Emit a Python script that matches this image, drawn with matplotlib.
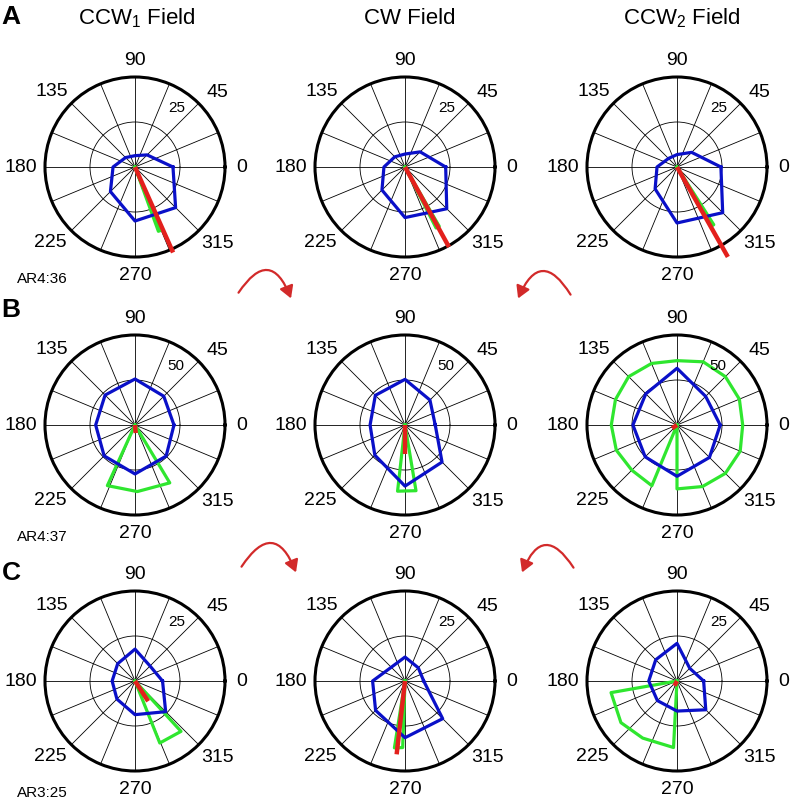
import numpy as np
import matplotlib
matplotlib.use("Agg")
import matplotlib.pyplot as plt
from matplotlib.patches import FancyArrowPatch

plt.rcParams["font.family"] = ["Liberation Sans", "DejaVu Sans"]
plt.rcParams["mathtext.fontset"] = "custom"
plt.rcParams["mathtext.rm"] = "Liberation Sans"
plt.rcParams["mathtext.it"] = "Liberation Sans:italic"

# ---- data ----
FIELDS = ["CCW$_1$ Field", "CW Field", "CCW$_2$ Field"]
ROW_LETTERS = ["A", "B", "C"]
CELL_IDS = ["AR4:36", "AR4:37", "AR3:25"]
RMAX = [50, 100, 50]
RING = [25, 50, 25]
ANGLE_TICKS = [0, 45, 90, 135, 180, 225, 270, 315]

BLUE_THETA = [0, 45, 90, 135, 180, 225, 270, 315]
blue_A = [[21.1, 9.5, 6.3, 7.4, 12.2, 19.3, 30.0, 31.9],
          [22.6, 11.9, 7.2, 8.0, 11.7, 18.1, 28.1, 32.8],
          [24.4, 11.5, 6.9, 6.7, 11.1, 17.2, 31.1, 35.9]]
blue_B = [[43.3, 45.2, 51.1, 47.0, 43.7, 48.5, 54.4, 48.9],
          [33.6, 39.2, 50.7, 46.6, 38.8, 47.4, 67.9, 58.2],
          [48.0, 45.0, 63.0, 49.0, 49.0, 50.0, 57.0, 51.0]]
blue_C = [[15.3, 11.8, 17.7, 13.6, 12.7, 14.2, 18.7, 24.1],
          [10.4, 10.4, 13.3, 10.8, 18.0, 23.1, 31.5, 29.6],
          [14.8, 10.0, 20.9, 16.7, 15.7, 15.4, 16.7, 22.6]]

green_theta_A = [[290, 290, 292, 292], [297, 297, 300, 300], [300, 300, 302.5, 302.5]]
green_r_A = [[0, 38, 38, 0], [0, 38, 38, 0], [0, 38, 38, 0]]
green_theta_B = [[245.5, 245.5, 272, 301, 301],
                 [263.6, 263.6, 279.5, 279.5],
                 [270, 270, 292.5, 315, 337.5, 360, 382.5, 405, 427.5, 450,
                  472.5, 495, 517.5, 540, 562.5, 585, 607.5, 607.5]]
green_r_B = [[0, 74, 74, 75, 0],
             [0, 74, 74, 0],
             [0, 71, 74, 76, 76, 73, 75, 76, 76, 71.5, 74, 76, 74, 73, 73, 71, 73, 0]]
green_theta_C = [[312.4, 312.4, 291.8, 291.8], [261, 261, 268, 268],
                 [190, 190, 216.6, 239, 267, 267]]
green_r_C = [[0, 37.9, 37.1, 0], [0, 37.6, 37.0, 0], [0, 37.2, 38.8, 37.0, 37.0, 0]]

red_theta = [[294, 298.8, 299.5], [275, 270, 214], [303, 263.5, 242]]
red_len = [[52, 50.7, 57.4], [9, 32, 6.5], [13.4, 41, 3]]

BLUE = [blue_A, blue_B, blue_C]
GREEN_T = [green_theta_A, green_theta_B, green_theta_C]
GREEN_R = [green_r_A, green_r_B, green_r_C]

# ---- layout (pixels of the 792x802 figure) ----
W, H = 792, 802
COL_X = [135, 405, 677]
ROW_Y = [167, 425, 681]
RAD = 90
LABEL_POS = {0: (0, 1.19), 45: (42, 1.24), 90: (90, 1.185), 135: (138, 1.25),
             180: (180, 1.27), 225: (222, 1.26), 270: (270, 1.21), 315: (317, 1.25)}

C_BLUE = "#0a10c8"
C_GREEN = "#2fe62f"
C_RED = "#e3201c"
C_ARROW = "#d22a2a"

fig = plt.figure(figsize=(W / 100, H / 100), dpi=100)


def polar_panel(i, j):
    cx, cy = COL_X[j], ROW_Y[i]
    ax = fig.add_axes([(cx - RAD) / W, 1 - (cy + RAD) / H, 2 * RAD / W, 2 * RAD / H],
                      projection="polar")
    rmax = RMAX[i]
    ax.set_ylim(0, rmax)
    ax.set_thetagrids(np.arange(0, 360, 22.5), labels=[])
    ax.set_rgrids([RING[i]], labels=[])
    ax.grid(True, color="black", linewidth=0.6)
    ax.spines["polar"].set_linewidth(2.2)
    ax.set_facecolor("white")

    th = np.deg2rad(BLUE_THETA + [BLUE_THETA[0]])
    rb = BLUE[i][j] + [BLUE[i][j][0]]
    ax.plot(th, rb, color=C_BLUE, lw=2.3, zorder=4)
    ax.plot(np.deg2rad(GREEN_T[i][j]), GREEN_R[i][j], color=C_GREEN, lw=2.3, zorder=3)
    t = np.deg2rad(red_theta[i][j])
    ax.plot([t, t], [0, red_len[i][j]], color=C_RED, lw=3.2, zorder=5,
            clip_on=False, solid_capstyle="butt")

    for a in ANGLE_TICKS:
        ang, rr = LABEL_POS[a]
        ax.text(np.deg2rad(ang), rr * rmax, str(a), ha="center", va="center",
                fontsize=14, clip_on=False)
    ax.text(np.deg2rad(55), 0.8 * rmax, str(RING[i]), ha="center", va="center",
            fontsize=11, zorder=6)
    return ax


for i in range(3):
    for j in range(3):
        polar_panel(i, j)

# titles, letters, cell ids
TITLE_X = [137, 410, 682]
for j in range(3):
    fig.text(TITLE_X[j] / W, 1 - 18 / H, FIELDS[j], ha="center", va="center", fontsize=16)

LETTER_Y = [17, 310, 573]
for i in range(3):
    fig.text(11 / W, 1 - LETTER_Y[i] / H, ROW_LETTERS[i], ha="center", va="center",
             fontsize=19, fontweight="bold")

CELL_Y = [279, 537, 793]
for i in range(3):
    fig.text(42 / W, 1 - CELL_Y[i] / H, CELL_IDS[i], ha="center", va="center", fontsize=11)

# curved red arrows between rows
ARROWS = [((237, 295), (292, 301), -1.0), ((572, 297), (517, 301), 1.0),
          ((240, 569), (297, 575), -1.0), ((575, 570), (521, 575), 1.0)]
for (x0, y0), (x1, y1), rad in ARROWS:
    p = FancyArrowPatch((x0 / W, 1 - y0 / H), (x1 / W, 1 - y1 / H),
                        transform=fig.transFigure,
                        connectionstyle=f"arc3,rad={rad}",
                        arrowstyle="-|>,head_length=0.6,head_width=0.35",
                        mutation_scale=12, color=C_ARROW, lw=1.6)
    fig.patches.append(p)

fig.savefig("out.png", dpi=100)
